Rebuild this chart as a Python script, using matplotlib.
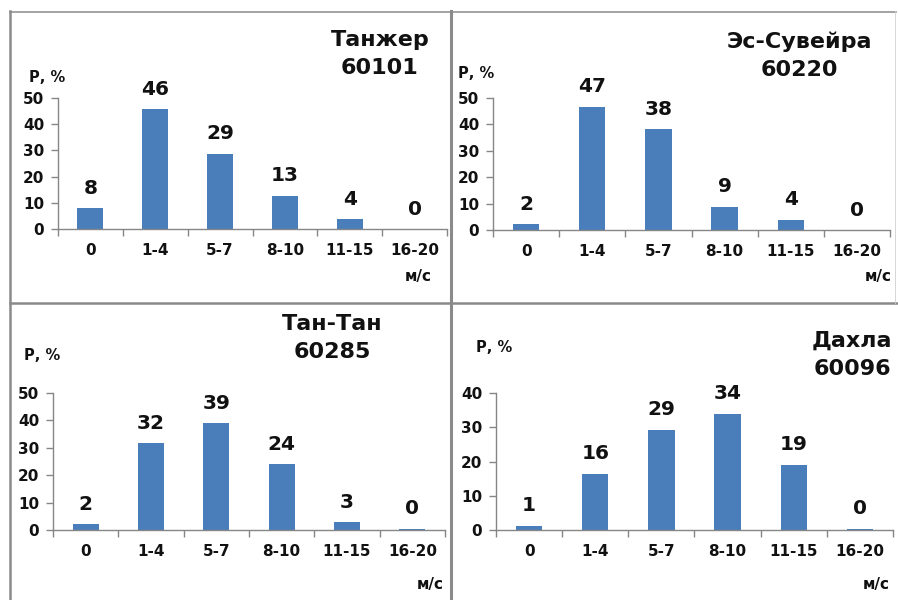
import matplotlib.pyplot as plt
from matplotlib.lines import Line2D

# wind speed classes and frequency (%) for four stations
categories = ['0', '1-4', '5-7', '8-10', '11-15', '16-20']
tanger = [8.0, 45.8, 28.7, 12.7, 3.8, 0.0]
essaouira = [2.3, 46.7, 38.1, 8.8, 3.9, 0.0]
tantan = [2.2, 31.6, 38.9, 24.0, 2.8, 0.4]
dakhla = [1.3, 16.4, 29.3, 33.9, 19.1, 0.4]

W, H = 898, 600
fig = plt.figure(figsize=(W/100, H/100), dpi=100)
plt.rcParams['font.family'] = 'DejaVu Sans'
plt.rcParams['font.weight'] = 'bold'

def fx(x): return x/W
def fy(y): return 1 - y/H

bar_col = '#4a7ebb'
ax_col = '#868686'

# panel: (values, ymax, axes box in px [x0, x1, y0(zero), ytop], title, title pos, P label pos, m/s pos)
panels = [
    (tanger, 50, (58, 447, 229, 98), 'Танжер\n60101', (380, 54), (47, 77), (418, 277)),
    (essaouira, 50, (493, 890, 230, 98), 'Эс-Сувейра\n60220', (799, 56), (476, 73), (878, 277)),
    (tantan, 50, (53, 445, 530, 393), 'Тан-Тан\n60285', (332, 338), (42, 356), (430, 585)),
    (dakhla, 40, (496, 893, 530, 393), 'Дахла\n60096', (852, 355), (494, 348), (876, 585)),
]

for vals, ymax, box, title, tpos, ppos, mpos in panels:
    x0, x1, y0, yt = box
    ax = fig.add_axes([fx(x0), fy(y0), (x1-x0)/W, (y0-yt)/H])
    xs = range(len(categories))
    bars = ax.bar(xs, vals, width=0.4, color=bar_col, zorder=2)
    ax.bar_label(bars, fmt='%.0f', padding=7.5, fontsize=14.5, fontweight='bold', color='#111111')
    ax.set_xlim(-0.5, len(categories) - 0.5)
    ax.set_ylim(0, ymax)
    ax.set_yticks(range(0, ymax + 1, 10))
    ax.set_xticks([i - 0.5 for i in range(len(categories) + 1)])
    ax.set_xticklabels([])
    ax.set_xticks(list(xs), minor=True)
    ax.set_xticklabels(categories, minor=True)
    ax.tick_params(axis='x', which='major', direction='out', length=5, color=ax_col, width=1)
    ax.tick_params(axis='x', which='minor', length=0, pad=10, labelsize=11, labelcolor='#111111')
    ax.tick_params(axis='y', direction='out', length=5, color=ax_col, width=1, pad=5,
                   labelsize=11, labelcolor='#111111')
    for lab in ax.get_xticklabels(minor=True) + ax.get_yticklabels():
        lab.set_fontweight('bold')
    for s in ['top', 'right']:
        ax.spines[s].set_visible(False)
    for s in ['left', 'bottom']:
        ax.spines[s].set_color(ax_col)
        ax.spines[s].set_linewidth(1)
    ax.patch.set_alpha(0)

    fig.text(fx(tpos[0]), fy(tpos[1]), title, ha='center', va='center', fontsize=16,
             fontweight='bold', color='#111111', linespacing=1.5)
    fig.text(fx(ppos[0]), fy(ppos[1]), 'Р, %', ha='center', va='center', fontsize=10.5,
             fontweight='bold', color='#111111')
    fig.text(fx(mpos[0]), fy(mpos[1]), 'м/с', ha='center', va='center', fontsize=11,
             fontweight='bold', color='#111111')

# panel frame lines
frame = '#8a8a8a'
lines = [
    ((10, 10), (11, 600), 1.8, frame),
    ((10, 896), (11.5, 11.5), 1.1, frame),
    ((450.5, 450.5), (11, 600), 2.2, frame),
    ((10, 898), (303, 303), 1.8, frame),
    ((895, 895), (11, 303), 0.6, '#d0d0d0'),
]
for xx, yy, lw, c in lines:
    fig.add_artist(Line2D([fx(v) for v in xx], [fy(v) for v in yy], lw=lw, color=c,
                          transform=fig.transFigure))

plt.savefig('out.png', dpi=100)
